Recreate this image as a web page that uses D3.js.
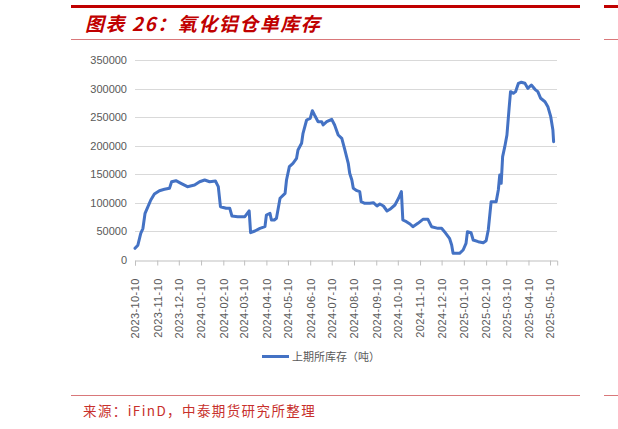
<!DOCTYPE html>
<html><head><meta charset="utf-8">
<script src="https://cdn.jsdelivr.net/npm/d3@7"></script>
<style>
html,body{margin:0;padding:0;background:#fff;}
svg{display:block;}
</style></head>
<body>
<svg id="c" width="618" height="429"></svg>
<script>
const title = "图表 26：氧化铝仓单库存";
const source = "来源：iFinD，中泰期货研究所整理";
const seriesName = "上期所库存（吨）";
const yTicks = [0, 50000, 100000, 150000, 200000, 250000, 300000, 350000];
const xTickLabels = ["2023-10-10","2023-11-10","2023-12-10","2024-01-10","2024-02-10","2024-03-10","2024-04-10","2024-05-10","2024-06-10","2024-07-10","2024-08-10","2024-09-10","2024-10-10","2024-11-10","2024-12-10","2025-01-10","2025-02-10","2025-03-10","2025-04-10","2025-05-10"];
const dates = ["2023-10-10","2023-10-14","2023-10-18","2023-10-21","2023-10-24","2023-10-27","2023-11-01","2023-11-06","2023-11-13","2023-11-20","2023-11-27","2023-11-30","2023-12-06","2023-12-13","2023-12-22","2024-01-01","2024-01-08","2024-01-15","2024-01-22","2024-01-30","2024-02-03","2024-02-06","2024-02-14","2024-02-19","2024-02-22","2024-03-01","2024-03-11","2024-03-17","2024-03-19","2024-03-25","2024-04-01","2024-04-08","2024-04-10","2024-04-15","2024-04-17","2024-04-21","2024-04-24","2024-04-29","2024-05-06","2024-05-08","2024-05-12","2024-05-17","2024-05-22","2024-05-24","2024-05-29","2024-05-31","2024-06-05","2024-06-10","2024-06-13","2024-06-16","2024-06-21","2024-06-26","2024-06-28","2024-07-03","2024-07-10","2024-07-14","2024-07-19","2024-07-24","2024-07-28","2024-08-02","2024-08-04","2024-08-07","2024-08-09","2024-08-14","2024-08-18","2024-08-20","2024-08-25","2024-09-01","2024-09-06","2024-09-11","2024-09-15","2024-09-20","2024-09-25","2024-09-29","2024-10-06","2024-10-11","2024-10-15","2024-10-17","2024-10-22","2024-10-27","2024-10-31","2024-11-07","2024-11-14","2024-11-21","2024-11-26","2024-12-05","2024-12-10","2024-12-14","2024-12-21","2024-12-24","2024-12-26","2025-01-04","2025-01-09","2025-01-13","2025-01-15","2025-01-20","2025-01-23","2025-01-30","2025-02-06","2025-02-10","2025-02-13","2025-02-17","2025-02-24","2025-02-27","2025-03-01","2025-03-03","2025-03-05","2025-03-08","2025-03-11","2025-03-14","2025-03-16","2025-03-20","2025-03-23","2025-03-27","2025-03-31","2025-04-05","2025-04-09","2025-04-14","2025-04-19","2025-04-23","2025-04-27","2025-05-03","2025-05-07","2025-05-11","2025-05-14","2025-05-15"];
const values = [20500,26000,46700,55000,81700,90500,105000,115500,121300,123700,125400,137000,138800,134200,128300,131250,137000,140000,137000,138250,128300,93300,90500,90500,77000,75800,75800,86000,47800,50750,55400,58300,78750,81700,70000,70000,73000,108000,116700,140000,163300,169200,178000,192500,204200,221700,245000,248000,261300,253750,242000,242000,236250,242000,246200,236250,218750,213000,194000,169200,151700,140000,125400,121300,119600,102000,99200,99200,100300,94500,98000,94500,85750,88700,96250,108000,119600,70000,67000,63000,58300,64200,71200,71200,58300,55400,55400,49600,38000,26250,11700,11700,17500,29200,49600,47800,35000,32100,30300,33800,52500,102000,102000,122500,148750,134200,180800,198300,218750,265400,294600,291700,294600,309200,311000,309200,300400,306250,298700,294600,283000,277000,268300,250800,227500,207000];

const parse = d3.timeParse("%Y-%m-%d");
const data = dates.map((d,i)=>({date:parse(d), value:values[i]}));

const svg = d3.select("#c");
const red = "#c00000";

// header / footer decorations
svg.append("rect").attr("x",71).attr("y",5).attr("width",509).attr("height",3).attr("fill",red);
svg.append("rect").attr("x",604).attr("y",5).attr("width",14).attr("height",3).attr("fill",red);
svg.append("line").attr("x1",71).attr("x2",580).attr("y1",39.5).attr("y2",39.5).attr("stroke","#d9787a").attr("stroke-width",1);
svg.append("line").attr("x1",604).attr("x2",618).attr("y1",39.5).attr("y2",39.5).attr("stroke","#d9787a").attr("stroke-width",1);
svg.append("line").attr("x1",71).attr("x2",580).attr("y1",395.5).attr("y2",395.5).attr("stroke","#d9787a").attr("stroke-width",1);
svg.append("line").attr("x1",604).attr("x2",618).attr("y1",395.5).attr("y2",395.5).attr("stroke","#d9787a").attr("stroke-width",1);

svg.append("text").attr("x",85).attr("y",31)
  .attr("font-family","'Noto Sans CJK SC', sans-serif").attr("font-size",19)
  .attr("font-weight","bold").attr("font-style","italic").attr("letter-spacing",1.5)
  .attr("fill",red).text(title);

svg.append("text").attr("x",83).attr("y",416)
  .attr("font-family","'Noto Sans CJK SC', sans-serif").attr("font-size",13.5)
  .attr("letter-spacing",1.4)
  .attr("fill","#c8302c").text(source);

// scales
const x = d3.scaleTime().domain([parse("2023-10-10"), parse("2025-05-20")]).range([135, 557.2]);
const y = d3.scaleLinear().domain([0, 350000]).range([260, 60]);

// gridlines
svg.append("g").selectAll("line").data(yTicks.filter(v=>v>0)).join("line")
  .attr("x1",135).attr("x2",557).attr("y1",d=>Math.round(y(d))+0.5).attr("y2",d=>Math.round(y(d))+0.5)
  .attr("stroke","#d9d9d9").attr("stroke-width",1);

// y axis
const yAxis = svg.append("g").attr("transform","translate(135,0)")
  .call(d3.axisLeft(y).tickValues(yTicks).tickFormat(d3.format("d")).tickSize(0).tickPadding(8));
yAxis.select(".domain").remove();
yAxis.selectAll("text").attr("font-family","'Liberation Sans', Arial, sans-serif").attr("font-size",11).attr("fill","#595959");

// x axis
const xTicks = xTickLabels.map(parse);
const xAxis = svg.append("g").attr("transform","translate(0,260.5)")
  .call(d3.axisBottom(x).tickValues(xTicks).tickFormat(d3.timeFormat("%Y-%m-%d")).tickSizeOuter(0).tickSize(5));
xAxis.select(".domain").attr("stroke","#bfbfbf");
xAxis.selectAll(".tick line").attr("stroke","#bfbfbf");
xAxis.selectAll("text")
  .attr("font-family","'Liberation Sans', Arial, sans-serif").attr("font-size",11).attr("letter-spacing",0.4)
  .attr("fill","#595959")
  .attr("transform","rotate(-90)")
  .attr("text-anchor","end")
  .attr("dy","0.35em").attr("dx","-0.8em").attr("y",0).attr("x",-9);

// line
const line = d3.line().x(d=>x(d.date)).y(d=>y(d.value));
svg.append("path").datum(data).attr("d",line)
  .attr("fill","none").attr("stroke","#4472c4").attr("stroke-width",3)
  .attr("stroke-linejoin","round").attr("stroke-linecap","round");

// legend
svg.append("line").attr("x1",262).attr("x2",289).attr("y1",356.5).attr("y2",356.5)
  .attr("stroke","#4472c4").attr("stroke-width",3);
svg.append("text").attr("x",292).attr("y",357).attr("dy","0.35em")
  .attr("font-family","'Noto Sans CJK SC', sans-serif").attr("font-size",11)
  .attr("fill","#595959").text(seriesName);
</script>
</body></html>
